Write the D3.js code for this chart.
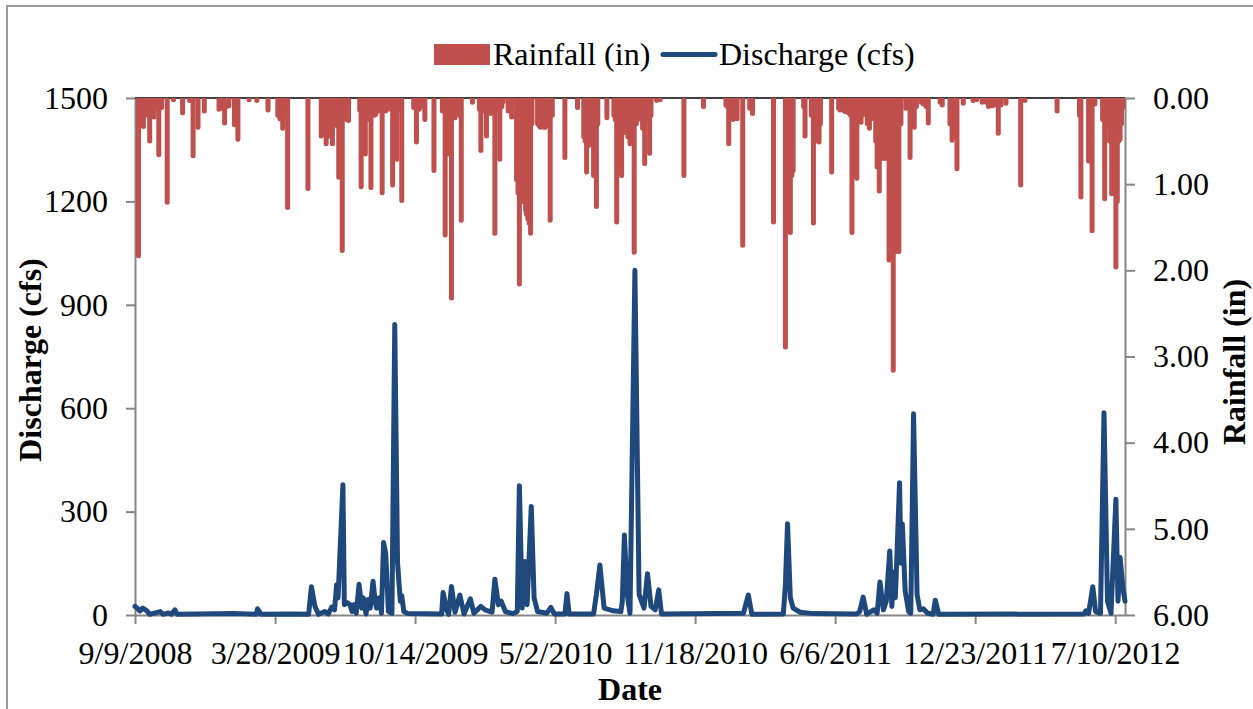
<!DOCTYPE html>
<html>
<head>
<meta charset="utf-8">
<script src="https://cdn.jsdelivr.net/npm/d3@7"></script>
<style>
  html, body { margin: 0; padding: 0; background: #fff; }
  svg { display: block; }
  text { font-family: "Liberation Serif", "Times New Roman", serif; fill: #000; }
</style>
</head>
<body>
<svg id="chart" width="1253" height="709"></svg>
<script>
// Daily rainfall (in) on rain days
const rainDates = [
  "9/14/2008","9/17/2008","9/21/2008","9/25/2008","9/27/2008","9/30/2008","10/2/2008","10/6/2008",
  "10/9/2008","10/13/2008","10/17/2008","10/25/2008","11/3/2008","11/16/2008","11/26/2008","12/1/2008",
  "12/8/2008","12/17/2008",
  "1/7/2009","1/10/2009","1/15/2009","1/18/2009","1/21/2009","1/29/2009","2/3/2009","2/19/2009",
  "3/2/2009","3/18/2009","4/1/2009","4/4/2009","4/8/2009","4/11/2009","4/15/2009","5/14/2009",
  "6/2/2009","6/5/2009","6/7/2009","6/9/2009","6/11/2009","6/14/2009","6/16/2009","6/18/2009",
  "6/21/2009","6/24/2009","6/27/2009","6/29/2009","7/2/2009","7/5/2009","7/8/2009","7/11/2009",
  "7/27/2009","7/29/2009","8/1/2009","8/4/2009","8/7/2009","8/9/2009","8/12/2009","8/15/2009",
  "8/17/2009","8/19/2009","8/22/2009","8/25/2009","8/28/2009","8/31/2009","9/2/2009","9/4/2009",
  "9/7/2009","9/9/2009","9/12/2009","9/15/2009","9/18/2009","9/21/2009","9/23/2009","9/25/2009",
  "10/12/2009","10/16/2009","10/20/2009","10/24/2009","10/28/2009","11/10/2009","11/22/2009","11/26/2009",
  "11/30/2009","12/1/2009","12/3/2009","12/5/2009","12/7/2009","12/10/2009","12/13/2009","12/16/2009",
  "12/19/2009",
  "1/4/2010","1/14/2010","1/16/2010","1/19/2010","1/21/2010","1/24/2010","1/27/2010","1/30/2010",
  "2/2/2010","2/5/2010","2/8/2010","2/10/2010","2/12/2010","2/15/2010","2/17/2010","2/24/2010",
  "3/1/2010","3/8/2010","3/10/2010","3/12/2010","3/14/2010","3/15/2010","3/17/2010","3/19/2010",
  "3/21/2010","3/22/2010","3/24/2010","3/26/2010","3/28/2010","3/30/2010","4/7/2010","4/9/2010",
  "4/11/2010","4/14/2010","4/16/2010","4/18/2010","4/21/2010","4/23/2010","4/25/2010","4/28/2010",
  "5/16/2010","6/3/2010","6/12/2010","6/14/2010","6/16/2010","6/19/2010","6/21/2010","6/24/2010",
  "6/26/2010","6/28/2010","6/30/2010","7/2/2010","7/15/2010","7/25/2010","7/27/2010","7/29/2010",
  "7/31/2010","8/2/2010","8/5/2010","8/8/2010","8/10/2010","8/12/2010","8/14/2010","8/17/2010",
  "8/20/2010","8/23/2010","8/26/2010","8/28/2010","8/31/2010","9/2/2010","9/4/2010","9/7/2010",
  "9/10/2010","9/14/2010","9/16/2010","9/24/2010","9/29/2010","11/2/2010","11/30/2010",
  "1/1/2011","1/3/2011","1/5/2011","1/8/2011","1/11/2011","1/14/2011","1/17/2011","1/25/2011",
  "2/4/2011","2/8/2011","3/10/2011","3/27/2011","3/29/2011","3/31/2011","4/3/2011","4/5/2011",
  "4/7/2011","4/22/2011","4/24/2011","5/3/2011","5/6/2011","5/9/2011","5/11/2011","5/14/2011",
  "5/16/2011","6/1/2011","6/11/2011","6/13/2011","6/16/2011","6/19/2011","6/21/2011","6/23/2011",
  "6/26/2011","6/28/2011","6/30/2011","7/3/2011","7/5/2011","7/7/2011","7/10/2011","7/13/2011",
  "7/15/2011","7/20/2011","7/22/2011","7/25/2011","7/28/2011","8/3/2011","8/5/2011","8/8/2011",
  "8/10/2011","8/12/2011","8/15/2011","8/17/2011","8/19/2011","8/22/2011","8/24/2011","8/26/2011",
  "8/28/2011","8/30/2011","9/1/2011","9/3/2011","9/5/2011","9/8/2011","9/15/2011","9/19/2011",
  "9/21/2011","9/24/2011","9/27/2011","9/30/2011","10/7/2011","10/10/2011","10/14/2011","10/17/2011",
  "11/3/2011","11/6/2011","11/17/2011","11/20/2011","11/23/2011","11/27/2011","12/6/2011","12/20/2011",
  "12/25/2011",
  "1/2/2012","1/8/2012","1/11/2012","1/16/2012","1/20/2012","1/25/2012","1/29/2012","2/5/2012",
  "2/26/2012","3/3/2012","4/18/2012","5/20/2012","5/22/2012","6/2/2012","6/4/2012","6/7/2012",
  "6/11/2012","6/22/2012","6/25/2012","6/27/2012","7/2/2012","7/5/2012","7/8/2012","7/11/2012",
  "7/13/2012","7/15/2012","7/17/2012","7/19/2012","7/21/2012"
];
const rainInches = [
  1.83,0.12,0.33,0.15,0.20,0.50,0.18,0.22,
  0.12,0.66,0.11,1.21,0.02,0.17,0.03,0.67,
  0.34,0.15,
  0.13,0.12,0.29,0.10,0.09,0.31,0.48,0.02,
  0.03,0.14,0.20,0.24,0.35,0.20,1.27,1.05,
  0.44,0.42,0.40,0.53,0.45,0.35,0.38,0.53,
  0.30,0.32,0.92,0.25,1.77,0.20,0.25,0.26,
  0.14,1.03,0.15,0.65,0.25,0.18,1.04,0.13,
  0.20,0.19,0.15,0.14,1.10,0.13,0.15,0.13,
  0.12,0.13,1.01,0.15,0.71,0.14,0.12,1.19,
  0.11,0.51,0.13,0.10,0.25,0.84,0.15,1.59,
  0.20,0.65,0.25,2.32,0.20,0.23,0.15,0.20,
  1.42,
  0.05,0.13,0.61,0.15,0.12,0.44,0.15,0.18,
  0.12,1.57,0.14,0.12,0.71,0.10,0.04,0.15,
  0.22,0.95,1.10,2.16,1.18,1.15,1.20,1.15,
  1.30,1.35,1.40,1.45,1.57,0.30,0.30,0.32,
  0.34,0.30,0.34,0.34,0.30,0.32,1.42,0.20,
  0.69,0.11,0.45,0.50,0.86,0.55,0.53,0.45,
  0.90,0.50,1.26,0.30,0.23,0.20,0.25,1.44,
  0.30,0.80,0.90,0.25,0.40,0.35,0.45,0.53,
  0.30,1.79,0.30,0.25,0.24,0.20,0.35,0.76,
  0.25,0.64,0.20,0.03,0.02,0.90,0.10,
  0.08,0.10,0.53,0.20,0.25,0.22,0.24,1.71,
  0.12,0.18,1.44,2.89,1.50,1.55,1.56,0.90,
  0.84,0.10,0.44,0.20,1.45,0.50,0.45,0.51,
  0.30,0.86,0.12,0.14,0.13,0.15,0.16,0.15,
  0.18,0.20,1.56,0.90,0.30,0.93,0.25,0.28,
  0.20,0.15,0.30,0.35,0.24,0.50,0.80,1.08,
  0.70,0.70,0.70,0.70,0.70,1.88,1.85,1.85,
  3.16,1.78,1.78,1.75,1.78,0.30,0.12,0.11,
  0.69,0.30,0.34,0.10,0.05,0.07,0.10,0.29,
  0.05,0.08,0.30,0.49,0.45,0.82,0.06,0.03,
  0.02,
  0.05,0.05,0.10,0.09,0.08,0.41,0.08,0.06,
  1.01,0.03,0.15,0.20,1.15,0.73,0.50,1.54,
  0.07,0.25,1.17,0.30,0.50,1.11,0.80,1.96,
  1.20,0.50,0.48,0.30,0.11
];

// Stream discharge (cfs)
const flowDates = [
  "9/9/2008","9/11/2008","9/16/2008","9/20/2008","9/26/2008","9/30/2008","10/15/2008","10/19/2008",
  "10/27/2008","10/31/2008","11/5/2008","11/8/2008","1/27/2009","3/1/2009","3/3/2009","3/8/2009",
  "4/21/2009","5/15/2009","5/19/2009","5/24/2009","5/29/2009","6/7/2009","6/12/2009","6/17/2009",
  "6/21/2009","6/24/2009","6/26/2009","7/3/2009","7/5/2009","7/8/2009","7/13/2009","7/16/2009",
  "7/19/2009","7/22/2009","7/26/2009","7/30/2009","8/1/2009","8/5/2009","8/8/2009","8/11/2009",
  "8/15/2009","8/18/2009","8/20/2009","8/24/2009","8/27/2009","8/30/2009","9/2/2009","9/6/2009",
  "9/11/2009","9/15/2009","9/19/2009","9/23/2009","9/25/2009","9/28/2009","10/4/2009","11/21/2009",
  "11/23/2009","11/28/2009","12/1/2009","12/5/2009","12/10/2009","12/17/2009","12/23/2009","1/1/2010",
  "1/6/2010","1/16/2010","1/22/2010","2/1/2010","2/5/2010","2/10/2010","2/14/2010","2/20/2010",
  "3/3/2010","3/9/2010","3/12/2010","3/16/2010","3/20/2010","3/23/2010","3/29/2010","4/2/2010",
  "4/7/2010","4/20/2010","4/26/2010","5/1/2010","5/16/2010","5/19/2010","5/22/2010","6/26/2010",
  "6/30/2010","7/5/2010","7/11/2010","7/24/2010","8/4/2010","8/6/2010","8/9/2010","8/13/2010",
  "8/17/2010","8/24/2010","8/30/2010","9/6/2010","9/11/2010","9/16/2010","9/22/2010","9/27/2010",
  "10/1/2010","1/26/2011","2/2/2011","2/7/2011","3/24/2011","3/27/2011","3/30/2011","4/3/2011",
  "4/7/2011","4/17/2011","5/6/2011","7/7/2011","7/11/2011","7/16/2011","7/21/2011","7/31/2011",
  "8/5/2011","8/9/2011","8/14/2011","8/18/2011","8/23/2011","8/26/2011","8/28/2011","8/31/2011",
  "9/3/2011","9/6/2011","9/8/2011","9/10/2011","9/14/2011","9/19/2011","9/22/2011","9/26/2011",
  "10/1/2011","10/5/2011","10/10/2011","10/16/2011","10/24/2011","10/27/2011","11/1/2011","5/27/2012",
  "5/29/2012","6/2/2012","6/8/2012","6/12/2012","6/19/2012","6/24/2012","6/29/2012","7/4/2012",
  "7/11/2012","7/14/2012","7/17/2012","7/21/2012","7/24/2012"
];
const flowCfs = [
  25,22,12,20,12,2,10,2,
  6,2,15,2,4,2,18,2,
  3,2,82,25,2,10,3,23,
  15,88,50,378,30,37,30,10,
  30,5,89,20,50,3,45,20,
  98,40,20,50,5,210,180,10,
  5,843,150,40,56,10,4,3,
  65,15,2,83,8,58,3,47,
  5,25,15,8,104,30,40,10,
  4,10,375,20,155,30,315,50,
  10,5,22,3,3,62,3,3,
  60,145,20,12,10,40,232,60,
  5,1000,60,20,120,25,15,73,
  3,5,58,2,3,89,265,50,
  20,8,4,3,10,52,2,15,
  5,96,15,40,186,25,125,50,
  215,384,150,264,70,10,5,584,
  60,15,18,5,2,43,2,3,
  12,5,82,10,5,587,40,5,
  336,40,167,78,40
];

// Axis ticks and range
const dateTickLabels = ["9/9/2008","3/28/2009","10/14/2009","5/2/2010","11/18/2010","6/6/2011","12/23/2011","7/10/2012"];
const dateRange = ["9/9/2008","7/24/2012"];
const flowTicks = [0, 300, 600, 900, 1200, 1500];
const rainTicks = [0, 1, 2, 3, 4, 5, 6];

const parse = d3.timeParse("%m/%d/%Y");
const fmt = d3.timeFormat("%-m/%-d/%Y");

const plot = { left: 135, right: 1125, top: 98, bottom: 615 };
const RED = "#C0504D", BLUE = "#1F497D", AXIS = "#868686";
const FONT = 32;

const svg = d3.select("#chart");

// outer chart frame
svg.append("rect")
  .attr("x", 7).attr("y", 6).attr("width", 1260).attr("height", 720)
  .attr("fill", "none").attr("stroke", "#9a9a9a").attr("stroke-width", 2);

const x = d3.scaleTime().domain(dateRange.map(parse)).range([plot.left, plot.right]);
const yFlow = d3.scaleLinear().domain([0, 1500]).range([plot.bottom, plot.top]);
const yRain = d3.scaleLinear().domain([0, 6]).range([plot.top, plot.bottom]);

svg.append("defs").append("clipPath").attr("id", "plotClip")
  .append("rect")
  .attr("x", plot.left).attr("y", plot.top)
  .attr("width", plot.right - plot.left + 4).attr("height", plot.bottom - plot.top + 10);

// axes
const styleAxis = g => {
  g.select(".domain").attr("stroke", AXIS).attr("stroke-width", 2);
  g.selectAll(".tick line").attr("stroke", AXIS).attr("stroke-width", 2);
  g.selectAll(".tick text").attr("font-size", FONT).attr("font-family", "Liberation Serif, serif").attr("fill", "#000");
};

svg.append("g")
  .attr("transform", `translate(0,${plot.bottom})`)
  .call(d3.axisBottom(x).tickValues(dateTickLabels.map(parse)).tickFormat(fmt).tickSizeInner(9).tickSizeOuter(0).tickPadding(17))
  .call(styleAxis)
  .call(g => g.selectAll(".tick text").attr("dy", "0.71em"));

svg.append("g")
  .attr("transform", `translate(${plot.left},0)`)
  .call(d3.axisLeft(yFlow).tickValues(flowTicks).tickFormat(d3.format("d")).tickSizeInner(9).tickSizeOuter(0).tickPadding(18))
  .call(styleAxis);

svg.append("g")
  .attr("transform", `translate(${plot.right},0)`)
  .call(d3.axisRight(yRain).tickValues(rainTicks).tickFormat(d3.format(".2f")).tickSizeInner(10).tickSizeOuter(0).tickPadding(18))
  .call(styleAxis);

// rainfall axis line along the top
svg.append("line")
  .attr("x1", plot.left).attr("x2", plot.right)
  .attr("y1", plot.top).attr("y2", plot.top)
  .attr("stroke", "#000").attr("stroke-width", 1.5);

// rainfall bars hanging from the top
const rain = rainDates.map((d, i) => ({ date: parse(d), value: rainInches[i] }));
svg.append("g").attr("clip-path", "url(#plotClip)")
  .selectAll("line").data(rain).join("line")
  .attr("x1", d => x(d.date)).attr("x2", d => x(d.date))
  .attr("y1", yRain(0)).attr("y2", d => yRain(d.value))
  .attr("stroke", RED).attr("stroke-width", 5).attr("stroke-linecap", "round");

// discharge line
const flow = flowDates.map((d, i) => ({ date: parse(d), value: flowCfs[i] }));
svg.append("path")
  .datum(flow)
  .attr("fill", "none").attr("stroke", BLUE).attr("stroke-width", 5)
  .attr("stroke-linejoin", "round").attr("stroke-linecap", "round")
  .attr("d", d3.line().x(d => x(d.date)).y(d => yFlow(d.value)));

// axis titles
svg.append("text").attr("x", (plot.left + plot.right) / 2).attr("y", 700)
  .attr("text-anchor", "middle").attr("font-size", FONT).attr("font-weight", "bold").text("Date");
svg.append("text").attr("transform", `translate(41,360) rotate(-90)`)
  .attr("text-anchor", "middle").attr("font-size", FONT).attr("font-weight", "bold").text("Discharge (cfs)");
svg.append("text").attr("transform", `translate(1245,362) rotate(-90)`)
  .attr("text-anchor", "middle").attr("font-size", FONT).attr("font-weight", "bold").text("Rainfall (in)");

// legend
const legend = svg.append("g");
legend.append("rect").attr("x", 434).attr("y", 44).attr("width", 56).attr("height", 21).attr("fill", RED);
legend.append("text").attr("x", 493).attr("y", 65).attr("font-size", FONT).text("Rainfall (in)");
legend.append("line").attr("x1", 663).attr("x2", 715).attr("y1", 54.5).attr("y2", 54.5)
  .attr("stroke", BLUE).attr("stroke-width", 5).attr("stroke-linecap", "round");
legend.append("text").attr("x", 719).attr("y", 65).attr("font-size", FONT).text("Discharge (cfs)");
</script>
</body>
</html>
